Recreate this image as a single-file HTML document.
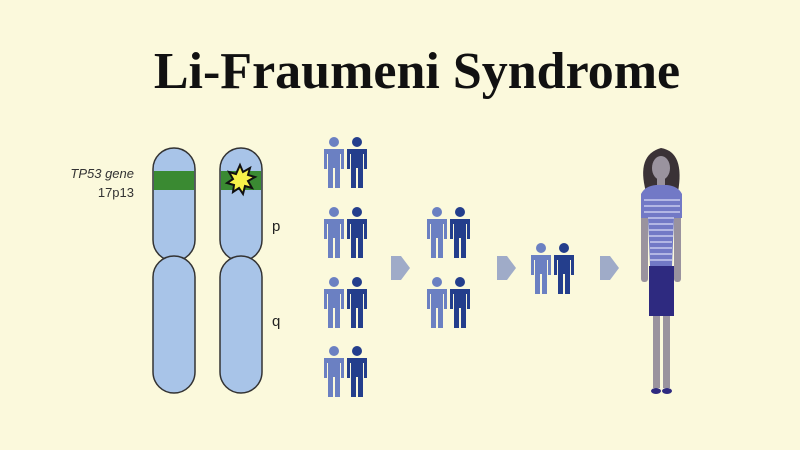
<!DOCTYPE html>
<html><head><meta charset="utf-8"><style>
html,body{margin:0;padding:0;background:#fbf9dc;}
svg{display:block}
</style></head><body>
<svg width="800" height="450" viewBox="0 0 800 450" xmlns="http://www.w3.org/2000/svg">
<defs>
<g id="pl"><circle cx="10" cy="5" r="5"/><path d="M0 12 h20 v20 h-3 v-15 h-1 v34 h-5 v-20 h-2 v20 h-5 v-34 h-1 v15 h-3z"/></g>
<g id="pair"><use href="#pl" fill="#6b80c2"/><use href="#pl" x="23" fill="#243e8c"/></g>
<path id="arr" d="M0 1 L10 1 L19 13 L10 25 L0 25 Z" fill="#9fabc8"/>
</defs>
<rect width="800" height="450" fill="#fbf9dc"/>
<text x="417" y="88" text-anchor="middle" font-family="Liberation Serif, serif" font-weight="bold" font-size="52" fill="#111">Li-Fraumeni Syndrome</text>
<text x="134" y="178" text-anchor="end" font-family="Liberation Sans, sans-serif" font-size="13" font-style="italic" fill="#333">TP53 gene</text>
<text x="134" y="197" text-anchor="end" font-family="Liberation Sans, sans-serif" font-size="13" fill="#333">17p13</text>
<g stroke="#333" stroke-width="1.5" fill="#a8c4e8">
<rect x="153" y="148" width="42" height="113" rx="21"/>
<rect x="153" y="256" width="42" height="137" rx="21"/>
<rect x="220" y="148" width="42" height="113" rx="21"/>
<rect x="220" y="256" width="42" height="137" rx="21"/>
</g>
<rect x="154" y="171" width="40" height="19" fill="#3a8a32"/>
<rect x="221" y="171" width="40" height="19" fill="#3a8a32"/>
<polygon points="240,165 243,172 250,168 248,175 255,177 248,181 252,188 245,186 243,194 239,188 233,192 234,185 227,183 233,179 229,172 236,174" fill="#f7f24a" stroke="#111" stroke-width="2"/>
<text x="272" y="231" font-family="Liberation Sans, sans-serif" font-size="15" fill="#222">p</text>
<text x="272" y="326" font-family="Liberation Sans, sans-serif" font-size="15" fill="#222">q</text>
<use href="#pair" x="324" y="137"/>
<use href="#pair" x="324" y="207"/>
<use href="#pair" x="324" y="277"/>
<use href="#pair" x="324" y="346"/>
<use href="#pair" x="427" y="207"/>
<use href="#pair" x="427" y="277"/>
<use href="#pair" x="531" y="243"/>
<use href="#arr" x="391" y="255"/>
<use href="#arr" x="497" y="255"/>
<use href="#arr" x="600" y="255"/>
<g>
<path d="M646 192 Q636 155 661 148 Q685 152 678 192 Z" fill="#3a3236"/>
<ellipse cx="661" cy="168" rx="9" ry="12" fill="#9a939e"/>
<rect x="657" y="178" width="8" height="10" fill="#9a939e"/>
<rect x="641" y="194" width="7" height="88" rx="3" fill="#9a939e"/>
<rect x="674" y="194" width="7" height="88" rx="3" fill="#9a939e"/>
<path d="M641 194 Q645 186 656 185 L667 185 Q678 186 682 194 L682 218 L674 218 L672 266 L650 266 L648 218 L641 218 Z" fill="#7279c6"/>
<g stroke="#c8cbee" stroke-width="1.5">
<line x1="644" y1="200" x2="680" y2="200"/><line x1="644" y1="206" x2="680" y2="206"/><line x1="644" y1="212" x2="680" y2="212"/><line x1="648" y1="218" x2="674" y2="218"/><line x1="649" y1="224" x2="673" y2="224"/><line x1="649" y1="230" x2="673" y2="230"/><line x1="649" y1="236" x2="673" y2="236"/><line x1="650" y1="242" x2="672" y2="242"/><line x1="650" y1="248" x2="672" y2="248"/><line x1="650" y1="254" x2="672" y2="254"/><line x1="650" y1="260" x2="672" y2="260"/>
</g>
<rect x="649" y="266" width="25" height="50" fill="#2e2a80"/>
<rect x="653" y="316" width="7" height="72" fill="#9a939e"/>
<rect x="663" y="316" width="7" height="72" fill="#9a939e"/>
<ellipse cx="656" cy="391" rx="5" ry="3" fill="#2e2a80"/>
<ellipse cx="667" cy="391" rx="5" ry="3" fill="#2e2a80"/>
</g>
</svg>
</body></html>
